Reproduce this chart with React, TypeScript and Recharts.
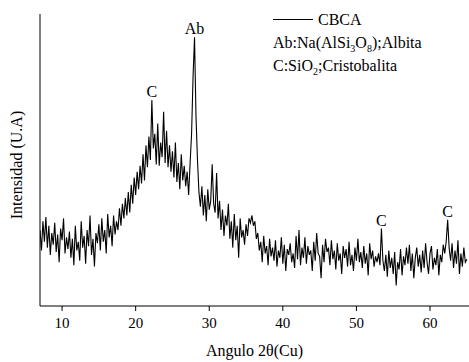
import { Legend, Line, LineChart, ReferenceDot, XAxis, YAxis } from "recharts";

const FONT = '"Liberation Serif", "Times New Roman", serif';

// XRD scan, 2θ from 7° in steps of 0.2°
const startAngle = 7;
const stepAngle = 0.2;

// intensidad (arbitrary units), one value per step
const intensity = [
  52, 38, 58, 44, 61, 40, 55, 35, 50, 42,
  57, 37, 49, 30, 53, 45, 60, 36, 47, 39,
  51, 33, 46, 28, 55, 38, 44, 31, 58, 40,
  48, 29, 52, 41, 62, 35, 46, 27, 50, 43,
  56, 38, 60, 44, 52, 36, 63, 47, 55, 41,
  62, 49, 58, 52, 67, 55, 70, 60, 74, 62,
  78, 64, 83, 70, 88, 76, 92, 80, 96, 84,
  104, 86, 110, 95, 116, 100, 141, 108, 118, 97,
  125, 96, 112, 102, 133, 98, 120, 95, 110, 92,
  106, 88, 112, 85, 98, 80, 104, 86, 96, 82,
  92, 76, 98, 118, 157, 184, 130, 100, 78, 68,
  82, 62, 76, 58, 80, 66, 72, 97, 70, 64,
  91, 60, 72, 52, 66, 48, 62, 55, 70, 46,
  58, 40, 63, 45, 55, 33, 60, 47, 52, 42,
  56, 48, 60, 57, 62, 55, 58, 46, 50, 38,
  44, 30, 48, 36, 41, 28, 46, 34, 40, 31,
  45, 27, 38, 33, 47, 29, 42, 24, 39, 35,
  43, 30, 36, 26, 48, 32, 52, 28, 40, 33,
  47, 29, 41, 35, 38, 24, 44, 31, 50, 36,
  34, 19, 42, 30, 46, 37, 40, 28, 45, 32,
  38, 25, 43, 31, 36, 22, 41, 33, 39, 27,
  44, 28, 35, 24, 40, 31, 46, 30, 37, 26,
  41, 29, 36, 21, 43, 32, 38, 27, 34, 30,
  36, 28, 53, 31, 24, 35, 20, 38, 26, 33,
  22, 37, 14, 30, 25, 39, 21, 34, 28, 40,
  29, 42, 24, 36, 19, 33, 40, 27, 35, 23,
  38, 26, 43, 30, 22, 36, 41, 25, 33, 28,
  39, 21, 35, 30, 42, 36, 44, 59, 40, 31,
  43, 26, 38, 29, 45, 22, 36, 27, 40, 30,
  32,
];

const xTicks = [10, 20, 30, 40, 50, 60];
const yTicks = [0, 10, 20, 30, 40, 50, 60, 70, 80, 90, 100, 110, 120, 130, 140, 150, 160, 170, 180, 190, 200];

const peakAngles = [22.2, 28.0, 53.4, 62.4];
const peakValues = [141, 184, 53, 59];
const peakPhases = ["C", "Ab", "C", "C"];

const data = intensity.map((value, i) => ({
  angle: Number((startAngle + i * stepAngle).toFixed(1)),
  intensity: value,
}));

const subStyle = { fontSize: 10, verticalAlign: "-4px", lineHeight: 0 };

function PhaseLegend() {
  return (
    <div style={{ fontFamily: FONT, fontSize: 16, lineHeight: "23px", color: "#000", whiteSpace: "nowrap" }}>
      <div style={{ display: "flex", alignItems: "center" }}>
        <span style={{ display: "inline-block", width: 40, borderTop: "1px solid #000", marginRight: 5 }} />
        CBCA
      </div>
      <div>
        Ab:Na(AlSi<span style={subStyle}>3</span>O<span style={subStyle}>8</span>);Albita
      </div>
      <div>
        C:SiO<span style={subStyle}>2</span>;Cristobalita
      </div>
    </div>
  );
}

function YTitle({ viewBox }: { viewBox?: { y: number; height: number } }) {
  const cy = (viewBox ? viewBox.y + viewBox.height / 2 : 160) + 5;
  return (
    <text
      x={16}
      y={cy}
      transform={`rotate(-90, 16, ${cy})`}
      textAnchor="middle"
      dominantBaseline="central"
      fill="#000"
      fontSize={16}
      fontFamily={FONT}
    >
      Intensidad (U.A)
    </text>
  );
}

export default function App() {
  return (
    <div style={{ position: "absolute", left: 0, top: 0, width: 469, height: 362, background: "#fff" }}>
      <LineChart width={469} height={362} data={data} margin={{ top: 14, right: 0, left: 30, bottom: 0 }}>
        <XAxis
          type="number"
          dataKey="angle"
          domain={[7, 65.3]}
          ticks={xTicks}
          allowDataOverflow
          height={56}
          tickSize={5}
          tickMargin={6}
          stroke="#000"
          tick={{ fill: "#000", fontSize: 15, fontFamily: FONT }}
          label={{ value: "Angulo 2θ(Cu)", position: "insideBottom", offset: 6, fill: "#000", fontSize: 16, fontFamily: FONT }}
        />
        <YAxis
          type="number"
          domain={[0, 200]}
          ticks={yTicks}
          width={10}
          tickSize={-3}
          tick={false}
          stroke="#000"
          label={<YTitle />}
        />
        <Legend
          content={<PhaseLegend />}
          layout="horizontal"
          align="center"
          verticalAlign="middle"
          wrapperStyle={{ top: 8, left: 273, width: "auto" }}
        />
        <Line
          type="linear"
          dataKey="intensity"
          stroke="#000"
          strokeWidth={1.1}
          dot={false}
          isAnimationActive={false}
        />
        {peakAngles.map((angle, i) => (
          <ReferenceDot
            key={i}
            x={angle}
            y={peakValues[i]}
            r={0}
            fill="none"
            stroke="none"
            label={{ value: peakPhases[i], position: "top", offset: 3, fill: "#000", fontSize: 16, fontFamily: FONT }}
          />
        ))}
      </LineChart>
    </div>
  );
}
